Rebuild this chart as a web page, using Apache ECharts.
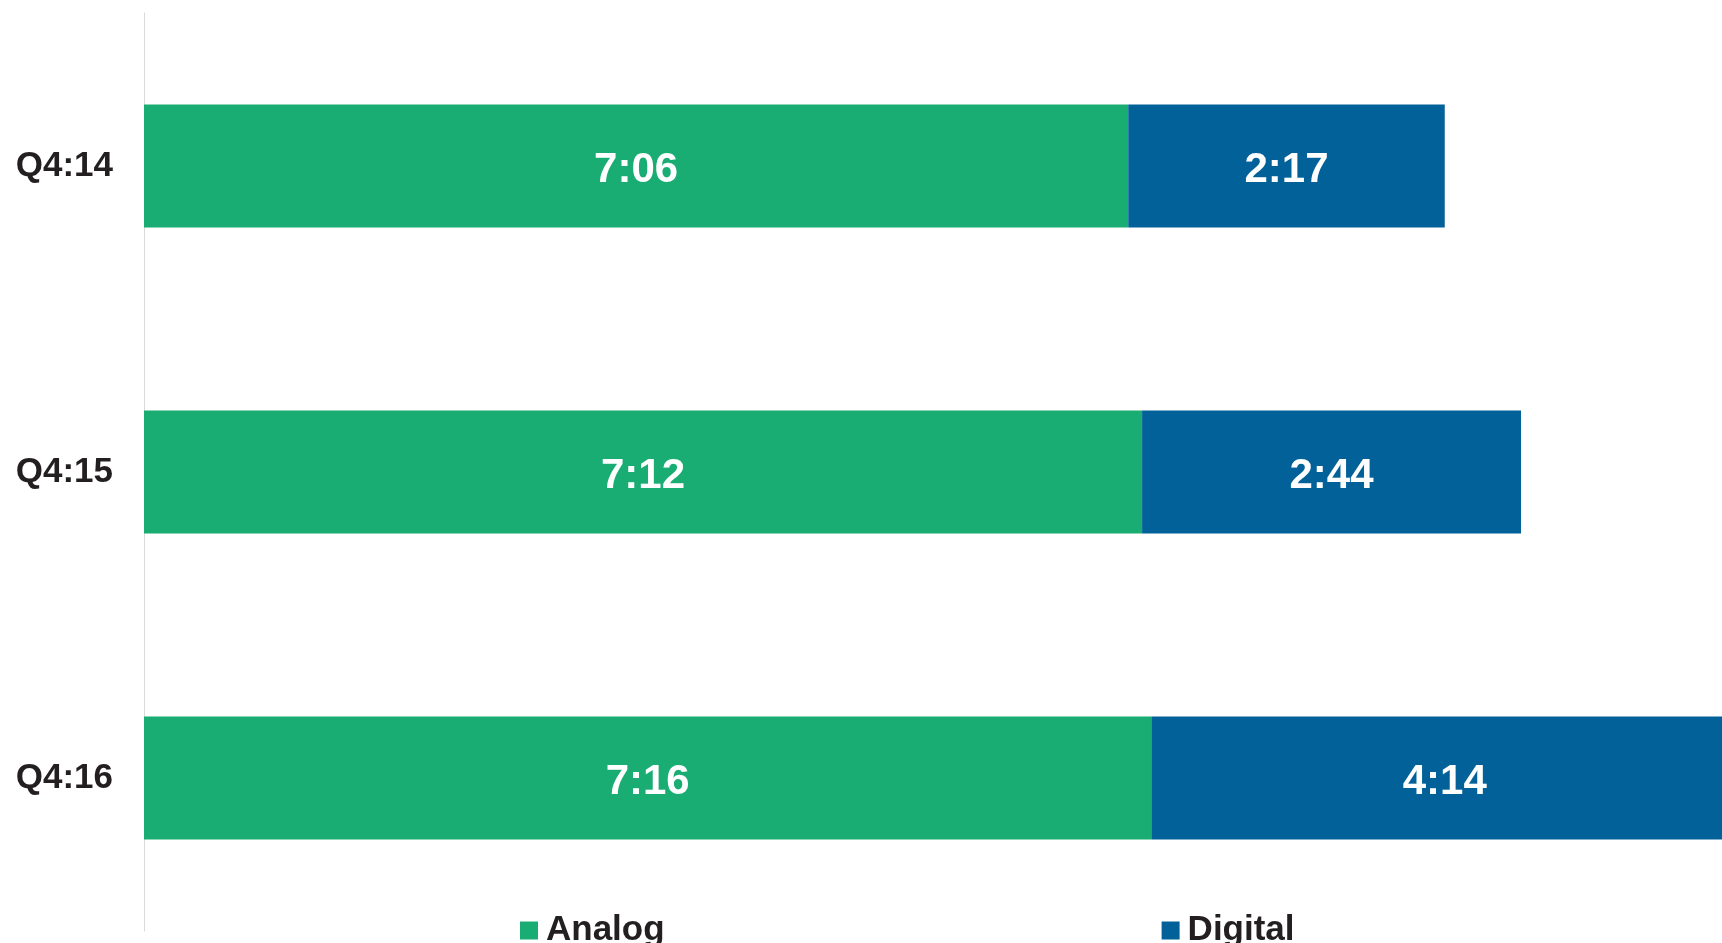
<!DOCTYPE html>
<html>
<head>
<meta charset="utf-8">
<script src="https://cdn.jsdelivr.net/npm/echarts@6/dist/echarts.min.js"></script>
<style>
html,body{margin:0;padding:0;background:#fff;}
#chart{width:1722px;height:943px;}
</style>
</head>
<body>
<div id="chart"></div>
<script>
// Data (minutes per day)
const categories = ["Q4:14", "Q4:15", "Q4:16"];
const analogMinutes = [426, 432, 436];   // 7:06, 7:12, 7:16
const digitalMinutes = [137, 164, 254];  // 2:17, 2:44, 4:14
const seriesNames = ["Analog", "Digital"];

function fmt(m) {
  const h = Math.floor(m / 60);
  const mm = m % 60;
  return h + ":" + (mm < 10 ? "0" : "") + mm;
}

const FONT = "'Liberation Sans', Arial, Helvetica, sans-serif";
const chart = echarts.init(document.getElementById('chart'));
const labelStyle = {
  show: true,
  position: 'inside',
  offset: [0, 4],
  color: '#ffffff',
  fontFamily: FONT,
  fontWeight: 'bold',
  fontSize: 42,
  formatter: p => fmt(p.value)
};
chart.setOption({
  animation: false,
  backgroundColor: '#ffffff',
  grid: { left: 144, right: 0, top: 13, bottom: 12, containLabel: false },
  legend: {
    data: seriesNames,
    left: 515,
    top: 908,
    itemWidth: 18,
    itemHeight: 18,
    itemGap: 497,
    icon: 'rect',
    textStyle: { color: '#231f20', fontFamily: FONT, fontWeight: 'bold', fontSize: 35, padding: [0, 0, 0, 3] }
  },
  xAxis: {
    type: 'value',
    min: 0,
    max: 683,
    show: false,
    splitLine: { show: false }
  },
  yAxis: {
    type: 'category',
    data: categories,
    inverse: true,
    axisLine: { show: true, lineStyle: { color: '#d9d9d9', width: 1 } },
    axisTick: { show: false },
    axisLabel: { color: '#231f20', fontFamily: FONT, fontWeight: 'bold', fontSize: 35, margin: 31, padding: [8, 0, 0, 0] }
  },
  series: [
    {
      name: seriesNames[0],
      type: 'bar',
      stack: 'total',
      barWidth: 123,
      clip: false,
      data: analogMinutes,
      itemStyle: { color: '#1aad73' },
      label: labelStyle
    },
    {
      name: seriesNames[1],
      type: 'bar',
      stack: 'total',
      barWidth: 123,
      clip: false,
      data: digitalMinutes,
      itemStyle: { color: '#016198' },
      label: labelStyle
    }
  ]
});
</script>
</body>
</html>
